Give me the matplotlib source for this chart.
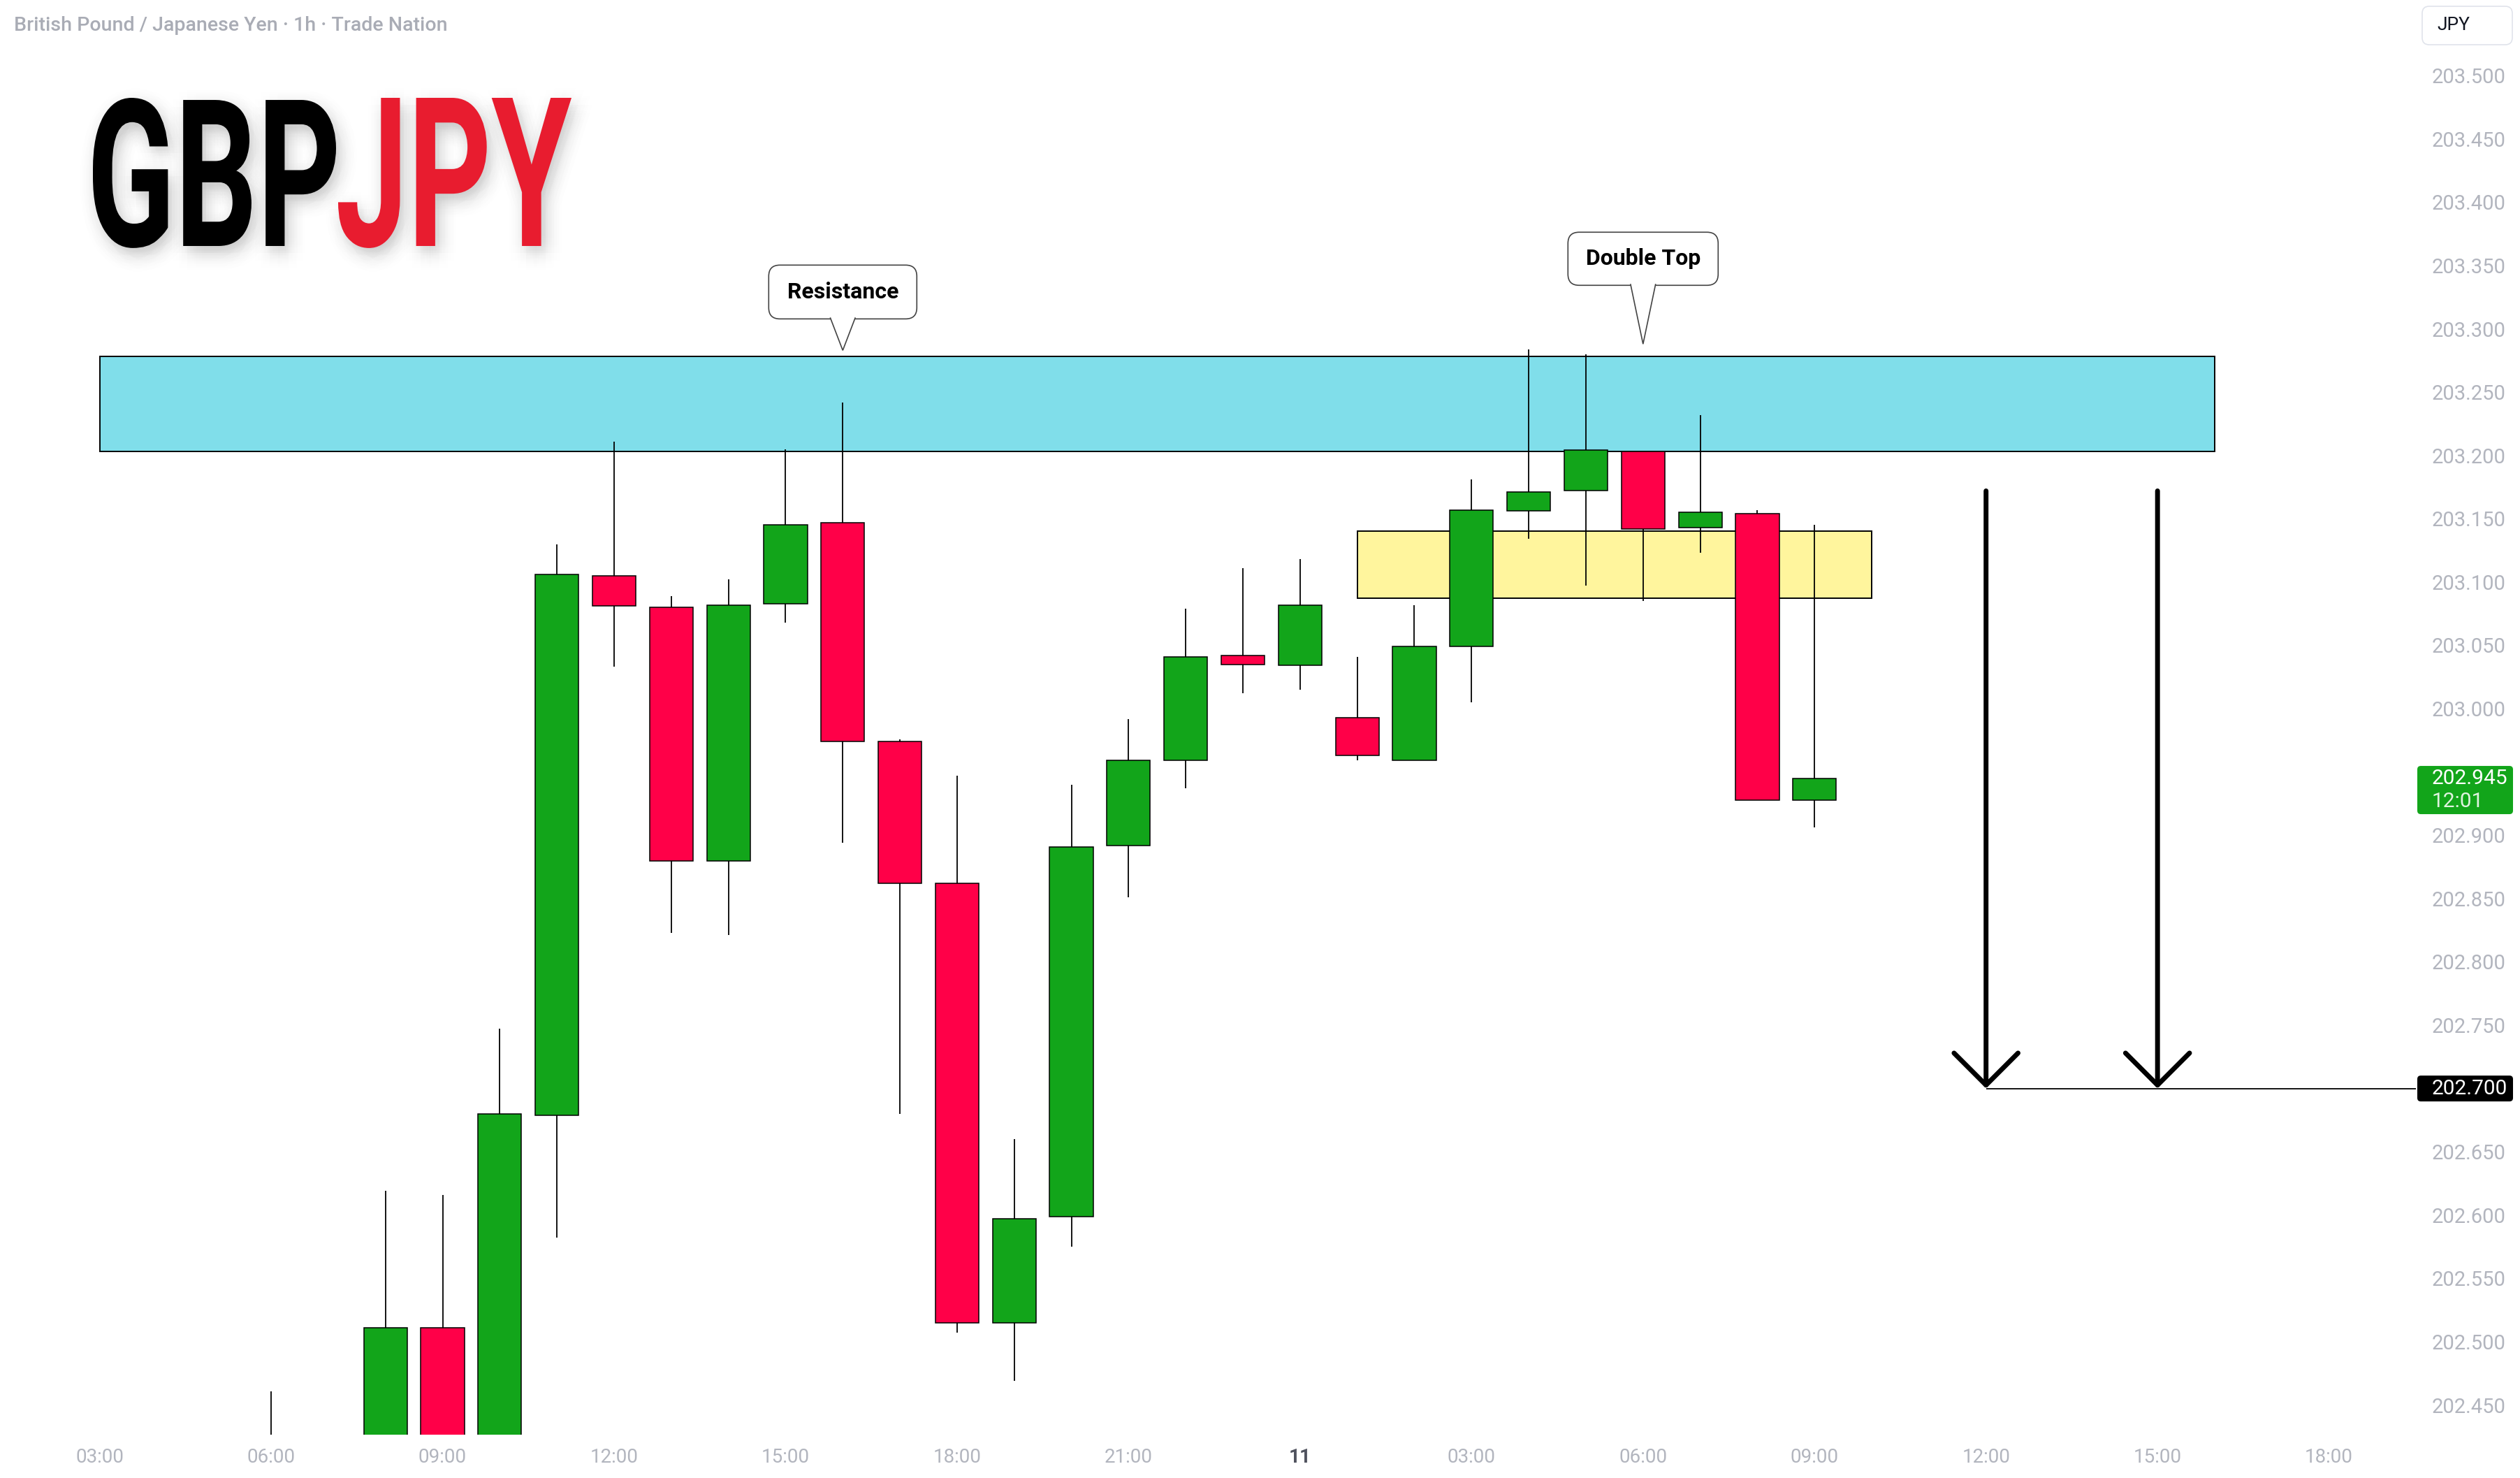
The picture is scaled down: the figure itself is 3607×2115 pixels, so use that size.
import matplotlib
matplotlib.use('Agg')
import numpy as np
import matplotlib.pyplot as plt
from matplotlib import patheffects as pe
from matplotlib.patches import FancyBboxPatch, Polygon, Rectangle
from matplotlib.transforms import Affine2D, IdentityTransform
from matplotlib.textpath import TextPath
from matplotlib.font_manager import FontProperties

# hourly candles, hour 0 = 03:00 on the 10th
hours = [3, 4, 5, 6, 7, 8, 9, 10, 11, 12, 13, 14, 15, 16, 17, 18, 19, 20,
         21, 22, 23, 24, 25, 26, 27, 28, 29, 30]
opens = [202.410, 202.400, 202.400, 202.511, 202.410, 202.679, 203.105, 203.080,
         202.880, 203.083, 203.147, 202.974, 202.862, 202.515, 202.599, 202.892,
         202.959, 203.042, 203.034, 202.993, 202.959, 203.049, 203.156, 203.172,
         203.203, 203.143, 203.154, 202.928]
highs = [202.461, 202.420, 202.619, 202.616, 202.747, 203.130, 203.211, 203.089,
         203.102, 203.205, 203.242, 202.976, 202.947, 202.660, 202.940, 202.992,
         203.079, 203.111, 203.118, 203.041, 203.082, 203.181, 203.284, 203.280,
         203.203, 203.232, 203.157, 203.145]
lows = [202.390, 202.370, 202.380, 202.390, 202.400, 202.582, 203.033, 202.823,
        202.821, 203.068, 202.894, 202.680, 202.507, 202.469, 202.575, 202.851,
        202.937, 203.012, 203.015, 202.959, 202.959, 203.005, 203.134, 203.097,
        203.085, 203.123, 202.928, 202.906]
closes = [202.420, 202.410, 202.511, 202.410, 202.680, 203.106, 203.081, 202.880,
          203.082, 203.145, 202.974, 202.862, 202.515, 202.597, 202.891, 202.959,
          203.041, 203.035, 203.082, 202.963, 203.049, 203.157, 203.171, 203.204,
          203.142, 203.155, 202.928, 202.945]

tick_hours = [0, 3, 6, 9, 12, 15, 18, 21, 24, 27, 30, 33, 36, 39]
tick_labels = ['03:00', '06:00', '09:00', '12:00', '15:00', '18:00', '21:00', '11',
               '03:00', '06:00', '09:00', '12:00', '15:00', '18:00']
price_ticks = [202.45, 202.50, 202.55, 202.60, 202.65, 202.75, 202.80, 202.85,
               202.90, 203.00, 203.05, 203.10, 203.15, 203.20, 203.25, 203.30,
               203.35, 203.40, 203.45, 203.50]

resistance_zone = (0, 37, 203.203, 203.278)
support_zone = (22, 31, 203.087, 203.140)
target_price = 202.700
target_start = 33
arrow_hours = [33, 36]
arrow_top = 203.172
last_price = 202.945
countdown = '12:01'
notes = [('Resistance', 13, 203.283), ('Double Top', 27, 203.288)]

W, H = 3607, 2115
GREEN = '#12a51a'
RED = '#ff0048'
GREY = '#b2b5be'

plt.rcParams['font.family'] = ['Roboto', 'DejaVu Sans']

fig = plt.figure(figsize=(W / 100, H / 100), dpi=100, facecolor='white')
ax = fig.add_axes([0, 62 / H, 3458 / W, 1 - 62 / H])
ax.set_xlim(-1.743, 40.52)
ax.set_ylim(202.4266, 203.5597)
for s in ax.spines.values():
    s.set_visible(False)

# zones
for (x0, x1, y0, y1), fc in [(resistance_zone, '#80deea'), (support_zone, '#fff59d')]:
    ax.add_patch(Rectangle((x0, y0), x1 - x0, y1 - y0, facecolor=fc,
                           edgecolor='black', lw=1.4, zorder=1))

# candles
o, c = np.array(opens), np.array(closes)
cols = [GREEN if cc >= oo else RED for oo, cc in zip(o, c)]
ax.vlines(hours, lows, highs, color='black', lw=1.3, zorder=2)
ax.bar(hours, np.abs(c - o), bottom=np.minimum(o, c), width=0.76, color=cols,
       edgecolor='black', linewidth=1.1, zorder=3)

# target line and arrows
ax.hlines(target_price, target_start, ax.get_xlim()[1], color='black', lw=1.3, zorder=4)
for xa in arrow_hours:
    ax.annotate('', xy=(xa, target_price), xytext=(xa, arrow_top),
                arrowprops=dict(arrowstyle='->,head_length=1,head_width=1',
                                mutation_scale=33, lw=5, color='black',
                                capstyle='round', joinstyle='round',
                                shrinkA=0, shrinkB=0), zorder=5)

# ticks
ax.yaxis.tick_right()
ax.set_yticks(price_ticks)
ax.set_yticklabels([f'{p:.3f}' for p in price_ticks])
ax.set_xticks(tick_hours)
ax.set_xticklabels(tick_labels)
ax.tick_params(axis='y', length=0, pad=16, labelsize=21, labelcolor=GREY)
ax.tick_params(axis='x', length=0, pad=14, labelsize=20, labelcolor=GREY)
for lab in ax.get_xticklabels():
    if lab.get_text() == '11':
        lab.set_fontweight('bold')
        lab.set_color('#50535e')

# callouts
ident = IdentityTransform()
for (txt, xh, yp), (bw, bh, gap) in zip(notes, [(212, 77, 45), (215, 76, 84)]):
    tx, ty = ax.transData.transform((xh, yp))
    ax.add_patch(FancyBboxPatch((tx - bw / 2, ty + gap), bw, bh,
                                boxstyle='round,pad=0,rounding_size=16',
                                transform=ident, fc='white', ec='#444444',
                                lw=1.2, clip_on=False, zorder=6))
    ax.add_patch(Polygon([(tx - 18, ty + gap + 2), (tx, ty), (tx + 18, ty + gap + 2)],
                         closed=False, transform=ident, fc='white', ec='#444444',
                         lw=1.2, clip_on=False, zorder=7))
    ax.text(tx, ty + gap + bh / 2, txt, transform=ident, ha='center', va='center',
            fontsize=23, fontweight='bold', color='black', zorder=8)

# price labels on the axis
def axis_label(price, lines, fc, top, bottom):
    _, py = ax.transData.transform((0, price))
    ax.add_patch(FancyBboxPatch((3460, py - bottom), 137, top + bottom,
                                boxstyle='round,pad=0,rounding_size=5',
                                transform=ident, fc=fc, ec='none',
                                clip_on=False, zorder=9))
    for i, (s, col) in enumerate(lines):
        ax.text(3481, py - i * 33, s, transform=ident, ha='left', va='center',
                fontsize=21.5, color=col, zorder=10)

axis_label(last_price, [(f'{last_price:.3f}', 'white'), (countdown, '#dff3df')],
           GREEN, 17.7, 51.3)
axis_label(target_price, [(f'{target_price:.3f}', 'white')], 'black', 18.5, 18.5)

# header and currency box
fig.text(20 / W, 1 - 37 / H, 'British Pound / Japanese Yen · 1h · Trade Nation',
         fontsize=20.5, fontweight='medium', color='#a9acb5', va='center', ha='left')
fig.add_artist(FancyBboxPatch((3467, H - 64), 129, 55,
                              boxstyle='round,pad=0,rounding_size=10',
                              transform=ident, fc='white', ec='#e0e3eb', lw=1.2))
fig.text(3488 / W, 1 - 36 / H, 'JPY', fontsize=19, color='#131722',
         va='center', ha='left')


# big condensed pair name (tall stretch of a normal bold face) with a soft shadow
class Stretch(pe.AbstractPathEffect):
    def __init__(self, x0, y0, sy, offsets):
        super().__init__()
        self.x0, self.y0, self.sy, self.offsets = x0, y0, sy, offsets

    def draw_path(self, renderer, gc, tpath, affine, rgbFace=None):
        st = affine + Affine2D().translate(-self.x0, -self.y0).scale(1, self.sy) \
            .translate(self.x0, self.y0)
        for dx, dy in self.offsets:
            gc0 = renderer.new_gc()
            gc0.copy_properties(gc)
            gc0.set_alpha(0.005)
            renderer.draw_path(gc0, tpath, st + Affine2D().translate(dx, dy),
                               (0.35, 0.35, 0.35, 0.005))
            gc0.restore()
        renderer.draw_path(gc, tpath, st, rgbFace)


fp = FontProperties(family='Roboto', weight='bold')
cap_px = 212
to_px = 100 / 72
base_y = H - 352
shadow = [(6 + r * np.cos(a), -10 + r * np.sin(a))
          for r in (4, 9, 14, 19, 24) for a in np.linspace(0, 2 * np.pi, 12, endpoint=False)]
for word, left, right, col in [('GBP', 133, 481, 'black'), ('JPY', 484, 818, '#e81c2f')]:
    ext = TextPath((0, 0), word, size=100, prop=fp).get_extents()
    fs2 = 100 * (right - left) / (ext.width * to_px)
    ext2 = TextPath((0, 0), word, size=fs2, prop=fp).get_extents()
    sy = cap_px / (ext2.y1 * to_px)
    anchor = left - ext2.x0 * to_px
    fig.text(anchor / W, base_y / H, word, fontproperties=fp, fontsize=fs2,
             color=col, ha='left', va='baseline',
             path_effects=[Stretch(anchor, base_y, sy, shadow)])

fig.savefig('out.png', dpi=100, facecolor='white')
